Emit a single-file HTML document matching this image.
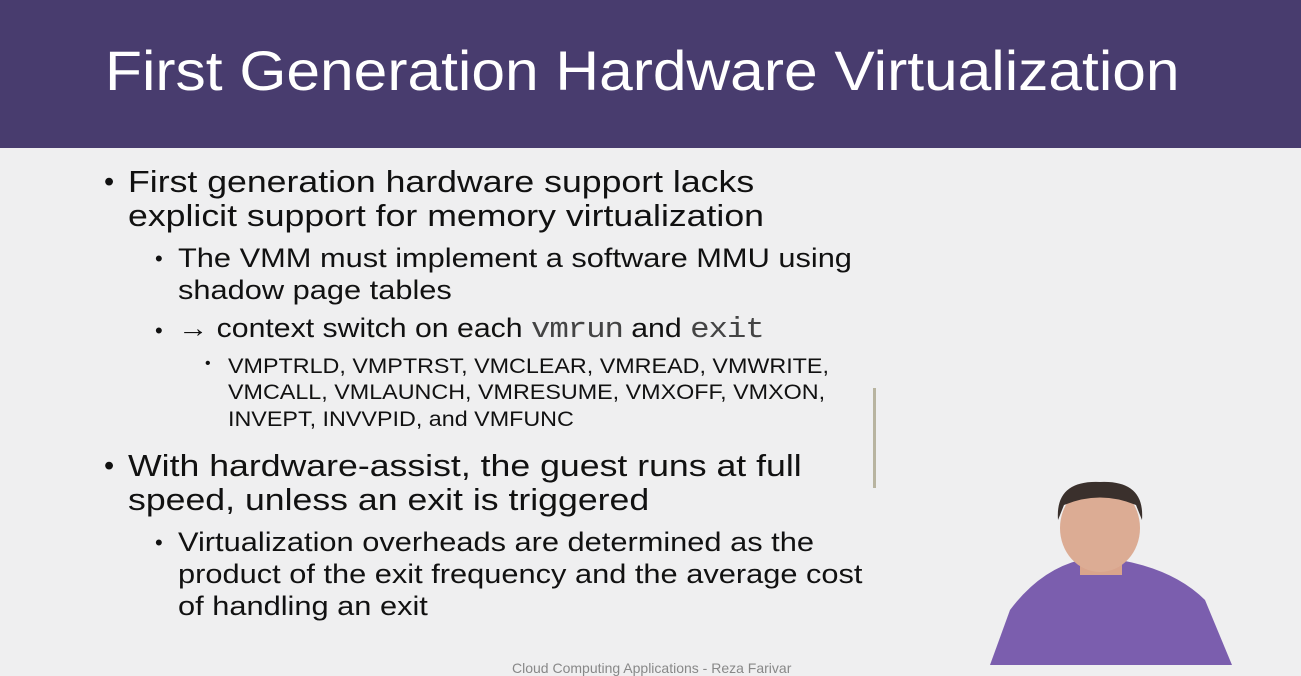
<!DOCTYPE html>
<html><head><style>
body{margin:0;width:1301px;height:670px;overflow:hidden;background:#efeff0;font-family:"Liberation Sans",sans-serif;position:relative}
.hdr{position:absolute;left:0;top:0;width:1301px;height:148px;background:#483c6e}
.t{position:absolute;left:105px;top:38px;color:#fff;font-size:56px;white-space:nowrap;transform:scaleX(1.08);transform-origin:left}
.l{position:absolute;white-space:nowrap;color:#111;transform-origin:left}
.a{font-size:31px;left:128px;transform:scaleX(1.15)}
.b{font-size:27px;left:178px;transform:scaleX(1.14)}
.c{font-size:21px;left:228px;transform:scaleX(1.11)}
.d{position:absolute;color:#111}
.m{font-family:"Liberation Mono",monospace;color:#444;font-size:29px;letter-spacing:-1px}
</style></head><body>
<div class="hdr"></div>
<div class="t">First Generation Hardware Virtualization</div>
<div class="d" style="left:104px;top:166px;font-size:29px">•</div>
<div class="l a" style="top:164px">First generation hardware support lacks</div>
<div class="l a" style="top:198px">explicit support for memory virtualization</div>
<div class="d" style="left:155px;top:246px;font-size:22px">•</div>
<div class="l b" style="top:243px">The VMM must implement a software MMU using</div>
<div class="l b" style="top:275px">shadow page tables</div>
<div class="d" style="left:155px;top:318px;font-size:22px">•</div>
<div class="l b" style="top:313px;transform:scaleX(1.12)">→ context switch on each <span class="m">vmrun</span> and <span class="m">exit</span></div>
<div class="d" style="left:205px;top:355px;font-size:16px">•</div>
<div class="l c" style="top:355px">VMPTRLD, VMPTRST, VMCLEAR, VMREAD, VMWRITE,</div>
<div class="l c" style="top:381px">VMCALL, VMLAUNCH, VMRESUME, VMXOFF, VMXON,</div>
<div class="l c" style="top:408px">INVEPT, INVVPID, and VMFUNC</div>
<div class="d" style="left:104px;top:450px;font-size:29px">•</div>
<div class="l a" style="top:448px">With hardware-assist, the guest runs at full</div>
<div class="l a" style="top:482px">speed, unless an exit is triggered</div>
<div class="d" style="left:155px;top:530px;font-size:22px">•</div>
<div class="l b" style="top:527px">Virtualization overheads are determined as the</div>
<div class="l b" style="top:559px">product of the exit frequency and the average cost</div>
<div class="l b" style="top:591px">of handling an exit</div>
<div style="position:absolute;left:873px;top:388px;width:3px;height:100px;background:#b8b4a0"></div>
<div class="l" style="left:512px;top:660px;font-size:14px;color:#888">Cloud Computing Applications - Reza Farivar</div>
<svg style="position:absolute;left:0;top:0" width="1301" height="670">
<path d="M990 665 L1010 610 Q1040 570 1080 560 L1120 560 Q1175 570 1205 600 L1232 665 Z" fill="#7b5eae"/>
<rect x="1080" y="540" width="42" height="35" fill="#d9a48c"/>
<ellipse cx="1100" cy="528" rx="40" ry="44" fill="#dcac94"/>
<path d="M1058 520 Q1055 480 1100 482 Q1145 480 1142 520 L1136 505 Q1100 490 1064 505 Z" fill="#3a302c"/>
</svg>
</body></html>
